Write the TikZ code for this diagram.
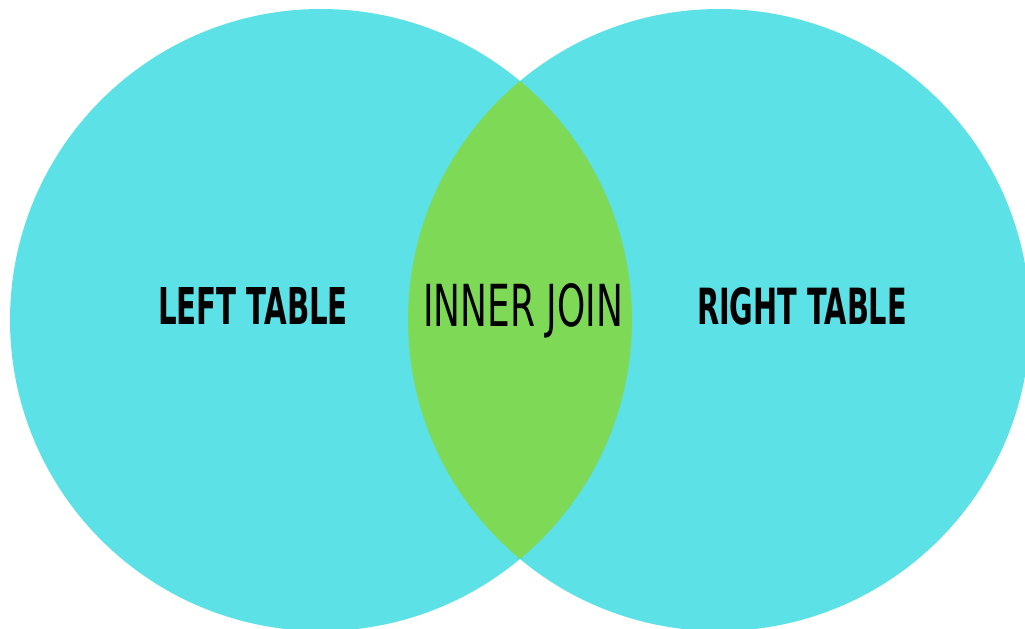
\documentclass[tikz,border=0pt]{standalone}
\usepackage{graphicx}
\usepackage{fontspec}
\setmainfont{DejaVu Sans}
\usepackage{tikz}
\definecolor{tablecyan}{HTML}{5CE1E6}
\definecolor{joingreen}{HTML}{7ED957}
% stretch a caps label to the box it fills in the picture
\newcommand{\fitlabel}[3]{\resizebox{#1}{#2}{#3}}

\begin{document}
\begin{tikzpicture}[x=0.02cm,y=-0.02cm,
  lbl/.style={text=black,inner sep=0pt}]
  \useasboundingbox (0,0) rectangle (1025,629);
  \coordinate (lc) at (321,320); \coordinate (rc) at (719,320);
  \fill[tablecyan] (lc) circle [radius=311]; \fill[tablecyan] (rc) circle [radius=311];
  \begin{scope}
    \clip (lc) circle [radius=311];
    \fill[joingreen] (rc) circle [radius=311];
  \end{scope}
  \node[lbl] (left) at (253,306) {\fitlabel{3.8cm}{0.74cm}{\bfseries LEFT TABLE}};
  \node[lbl] (join) at (523,311) {\fitlabel{4cm}{0.86cm}{INNER JOIN}};
  \node[lbl] (right) at (802,306) {\fitlabel{4.2cm}{0.74cm}{\bfseries RIGHT TABLE}};
\end{tikzpicture}
\end{document}
